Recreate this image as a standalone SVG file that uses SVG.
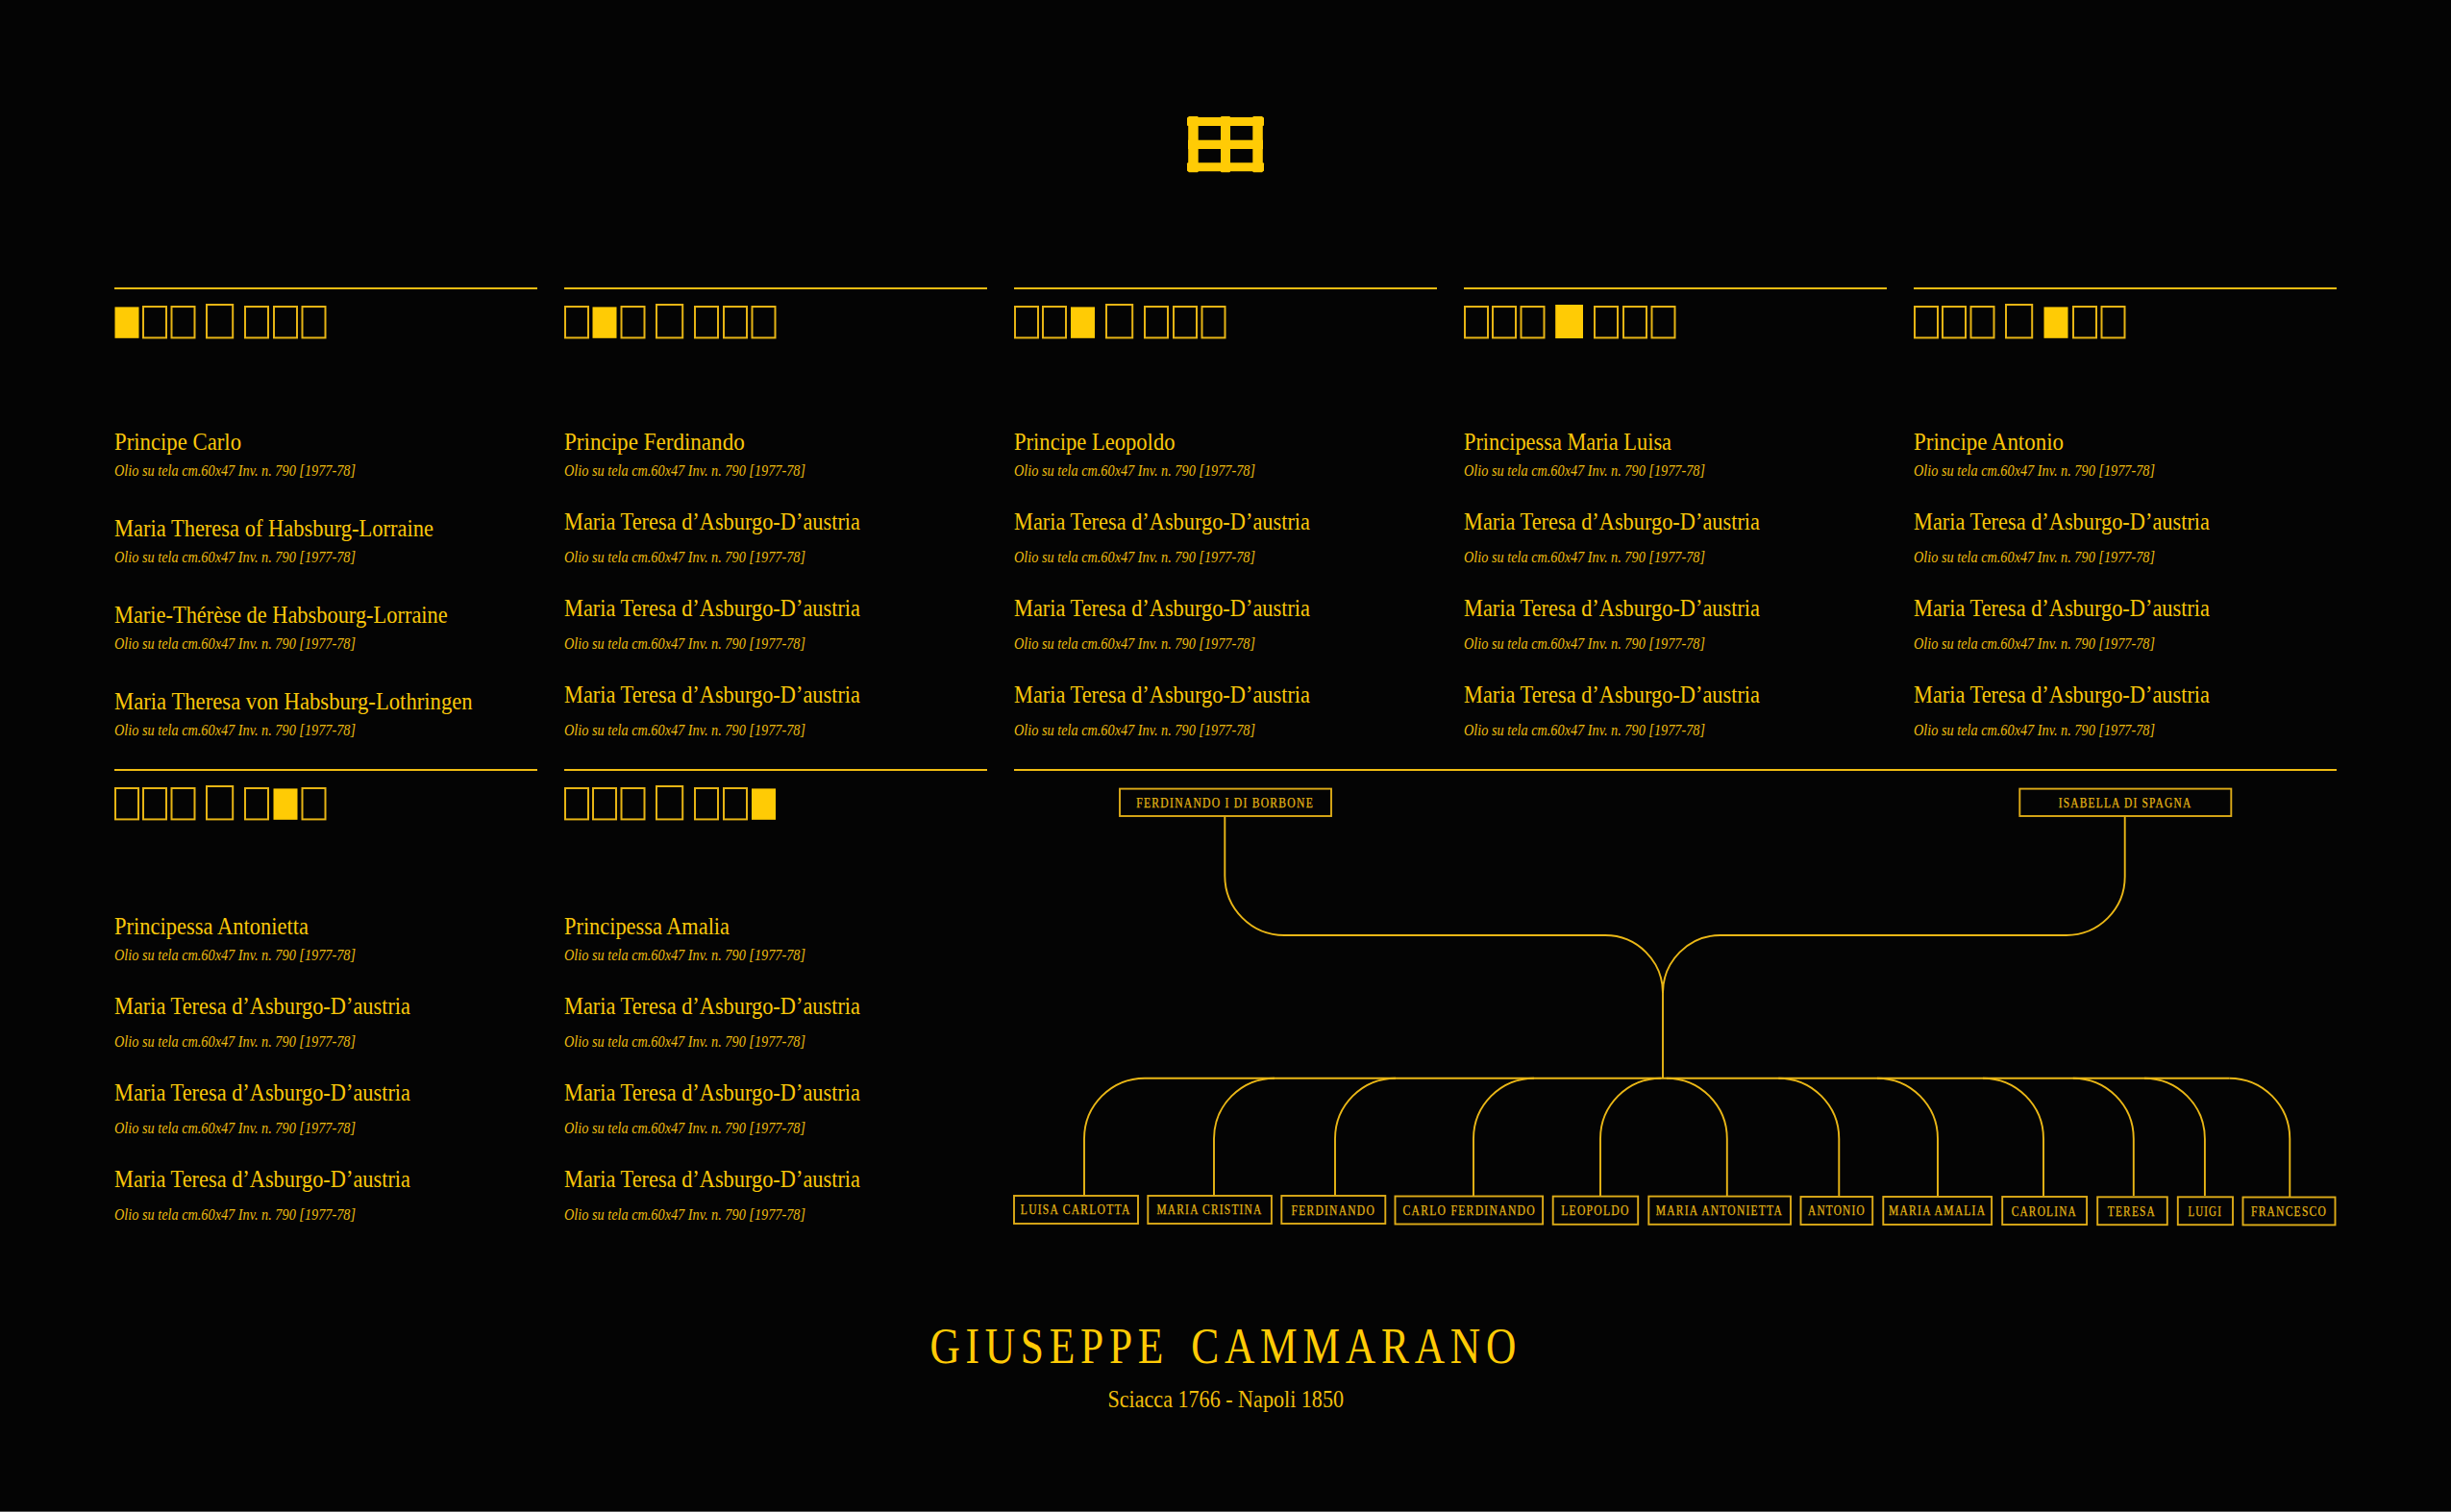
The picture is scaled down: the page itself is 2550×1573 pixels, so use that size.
<svg xmlns="http://www.w3.org/2000/svg" width="2550" height="1573" viewBox="0 0 2550 1573">
<style>
text{font-family:"Liberation Serif","Times New Roman",serif;fill:#FFCB05}
.n{font-size:25px;fill:#F9C70A}
.o{font-size:16.5px;font-style:italic;fill:#EDBC10}
.l{font-size:14px;letter-spacing:1.5px;fill:#E3B415;stroke:#E3B415;stroke-width:.25px}
.rule{stroke:#F0BC12;stroke-width:2.2;fill:none}
.c{stroke:#EAB716;stroke-width:1.9;fill:none}
.b{stroke:#DDAB18;stroke-width:1.9;fill:#040404}
.e{stroke:#E6B414;stroke-width:2;fill:none}
.f{fill:#FFCB05}
.t{font-size:53px;letter-spacing:7px;word-spacing:8px}
.s{font-size:25px;fill:#F0BE0C}
</style>
<defs>
<rect id="q" x="1" y="19" width="24" height="32.4" class="e"/>
<rect id="qt" x="1" y="17" width="27.2" height="34.4" class="e"/>
<rect id="qf" x="0.5" y="19.4" width="25" height="32.4" class="f"/>
<rect id="qtf" x="0.2" y="17" width="28.8" height="35" class="f"/>
</defs>
<rect width="2550" height="1573" fill="#040404"/>
<rect y="1572" width="2550" height="1" fill="#5a5a5a"/>

<g id="emblem" fill="#FFCB05">
<rect x="1236.2" y="121" width="10.5" height="58.3" rx="1"/>
<rect x="1270" y="121" width="10" height="58.3" rx="1"/>
<rect x="1303.3" y="121" width="10.5" height="58.3" rx="1"/>
<rect x="1235" y="122" width="80" height="9" rx="1"/>
<rect x="1236" y="145.7" width="78" height="9.3"/>
<rect x="1235" y="169.3" width="80" height="9" rx="1"/>
</g>

<g id="panel-1" transform="translate(119 300)">
<line class="rule" x1="0" y1="0" x2="440" y2="0"/>
<use href="#qf" x="0"/><use href="#q" x="29"/><use href="#q" x="58.5"/><use href="#qt" x="95"/><use href="#q" x="135"/><use href="#q" x="165"/><use href="#q" x="194.5"/>
<text class="n" x="0" y="168" textLength="132" lengthAdjust="spacingAndGlyphs">Principe Carlo</text>
<text class="o" x="0" y="195" textLength="251" lengthAdjust="spacingAndGlyphs">Olio su tela cm.60x47 Inv. n. 790 [1977-78]</text>
<text class="n" x="0" y="258" textLength="332" lengthAdjust="spacingAndGlyphs">Maria Theresa of Habsburg-Lorraine</text>
<text class="o" x="0" y="285" textLength="251" lengthAdjust="spacingAndGlyphs">Olio su tela cm.60x47 Inv. n. 790 [1977-78]</text>
<text class="n" x="0" y="348" textLength="346.7" lengthAdjust="spacingAndGlyphs">Marie-Thérèse de Habsbourg-Lorraine</text>
<text class="o" x="0" y="375" textLength="251" lengthAdjust="spacingAndGlyphs">Olio su tela cm.60x47 Inv. n. 790 [1977-78]</text>
<text class="n" x="0" y="438" textLength="372.7" lengthAdjust="spacingAndGlyphs">Maria Theresa von Habsburg-Lothringen</text>
<text class="o" x="0" y="465" textLength="251" lengthAdjust="spacingAndGlyphs">Olio su tela cm.60x47 Inv. n. 790 [1977-78]</text>
</g>

<g id="panel-2" transform="translate(587 300)">
<line class="rule" x1="0" y1="0" x2="440" y2="0"/>
<use href="#q" x="0"/><use href="#qf" x="29"/><use href="#q" x="58.5"/><use href="#qt" x="95"/><use href="#q" x="135"/><use href="#q" x="165"/><use href="#q" x="194.5"/>
<text class="n" x="0" y="168" textLength="187.7" lengthAdjust="spacingAndGlyphs">Principe Ferdinando</text>
<text class="o" x="0" y="195" textLength="251" lengthAdjust="spacingAndGlyphs">Olio su tela cm.60x47 Inv. n. 790 [1977-78]</text>
<text class="n" x="0" y="251" textLength="308" lengthAdjust="spacingAndGlyphs">Maria Teresa d’Asburgo-D’austria</text>
<text class="o" x="0" y="285" textLength="251" lengthAdjust="spacingAndGlyphs">Olio su tela cm.60x47 Inv. n. 790 [1977-78]</text>
<text class="n" x="0" y="341" textLength="308" lengthAdjust="spacingAndGlyphs">Maria Teresa d’Asburgo-D’austria</text>
<text class="o" x="0" y="375" textLength="251" lengthAdjust="spacingAndGlyphs">Olio su tela cm.60x47 Inv. n. 790 [1977-78]</text>
<text class="n" x="0" y="431" textLength="308" lengthAdjust="spacingAndGlyphs">Maria Teresa d’Asburgo-D’austria</text>
<text class="o" x="0" y="465" textLength="251" lengthAdjust="spacingAndGlyphs">Olio su tela cm.60x47 Inv. n. 790 [1977-78]</text>
</g>

<g id="panel-3" transform="translate(1055 300)">
<line class="rule" x1="0" y1="0" x2="440" y2="0"/>
<use href="#q" x="0"/><use href="#q" x="29"/><use href="#qf" x="58.5"/><use href="#qt" x="95"/><use href="#q" x="135"/><use href="#q" x="165"/><use href="#q" x="194.5"/>
<text class="n" x="0" y="168" textLength="167.5" lengthAdjust="spacingAndGlyphs">Principe Leopoldo</text>
<text class="o" x="0" y="195" textLength="251" lengthAdjust="spacingAndGlyphs">Olio su tela cm.60x47 Inv. n. 790 [1977-78]</text>
<text class="n" x="0" y="251" textLength="308" lengthAdjust="spacingAndGlyphs">Maria Teresa d’Asburgo-D’austria</text>
<text class="o" x="0" y="285" textLength="251" lengthAdjust="spacingAndGlyphs">Olio su tela cm.60x47 Inv. n. 790 [1977-78]</text>
<text class="n" x="0" y="341" textLength="308" lengthAdjust="spacingAndGlyphs">Maria Teresa d’Asburgo-D’austria</text>
<text class="o" x="0" y="375" textLength="251" lengthAdjust="spacingAndGlyphs">Olio su tela cm.60x47 Inv. n. 790 [1977-78]</text>
<text class="n" x="0" y="431" textLength="308" lengthAdjust="spacingAndGlyphs">Maria Teresa d’Asburgo-D’austria</text>
<text class="o" x="0" y="465" textLength="251" lengthAdjust="spacingAndGlyphs">Olio su tela cm.60x47 Inv. n. 790 [1977-78]</text>
</g>

<g id="panel-4" transform="translate(1523 300)">
<line class="rule" x1="0" y1="0" x2="440" y2="0"/>
<use href="#q" x="0"/><use href="#q" x="29"/><use href="#q" x="58.5"/><use href="#qtf" x="95"/><use href="#q" x="135"/><use href="#q" x="165"/><use href="#q" x="194.5"/>
<text class="n" x="0" y="168" textLength="216" lengthAdjust="spacingAndGlyphs">Principessa Maria Luisa</text>
<text class="o" x="0" y="195" textLength="251" lengthAdjust="spacingAndGlyphs">Olio su tela cm.60x47 Inv. n. 790 [1977-78]</text>
<text class="n" x="0" y="251" textLength="308" lengthAdjust="spacingAndGlyphs">Maria Teresa d’Asburgo-D’austria</text>
<text class="o" x="0" y="285" textLength="251" lengthAdjust="spacingAndGlyphs">Olio su tela cm.60x47 Inv. n. 790 [1977-78]</text>
<text class="n" x="0" y="341" textLength="308" lengthAdjust="spacingAndGlyphs">Maria Teresa d’Asburgo-D’austria</text>
<text class="o" x="0" y="375" textLength="251" lengthAdjust="spacingAndGlyphs">Olio su tela cm.60x47 Inv. n. 790 [1977-78]</text>
<text class="n" x="0" y="431" textLength="308" lengthAdjust="spacingAndGlyphs">Maria Teresa d’Asburgo-D’austria</text>
<text class="o" x="0" y="465" textLength="251" lengthAdjust="spacingAndGlyphs">Olio su tela cm.60x47 Inv. n. 790 [1977-78]</text>
</g>

<g id="panel-5" transform="translate(1991 300)">
<line class="rule" x1="0" y1="0" x2="440" y2="0"/>
<use href="#q" x="0"/><use href="#q" x="29"/><use href="#q" x="58.5"/><use href="#qt" x="95"/><use href="#qf" x="135"/><use href="#q" x="165"/><use href="#q" x="194.5"/>
<text class="n" x="0" y="168" textLength="156" lengthAdjust="spacingAndGlyphs">Principe Antonio</text>
<text class="o" x="0" y="195" textLength="251" lengthAdjust="spacingAndGlyphs">Olio su tela cm.60x47 Inv. n. 790 [1977-78]</text>
<text class="n" x="0" y="251" textLength="308" lengthAdjust="spacingAndGlyphs">Maria Teresa d’Asburgo-D’austria</text>
<text class="o" x="0" y="285" textLength="251" lengthAdjust="spacingAndGlyphs">Olio su tela cm.60x47 Inv. n. 790 [1977-78]</text>
<text class="n" x="0" y="341" textLength="308" lengthAdjust="spacingAndGlyphs">Maria Teresa d’Asburgo-D’austria</text>
<text class="o" x="0" y="375" textLength="251" lengthAdjust="spacingAndGlyphs">Olio su tela cm.60x47 Inv. n. 790 [1977-78]</text>
<text class="n" x="0" y="431" textLength="308" lengthAdjust="spacingAndGlyphs">Maria Teresa d’Asburgo-D’austria</text>
<text class="o" x="0" y="465" textLength="251" lengthAdjust="spacingAndGlyphs">Olio su tela cm.60x47 Inv. n. 790 [1977-78]</text>
</g>

<g id="panel-6" transform="translate(119 801)">
<line class="rule" x1="0" y1="0" x2="440" y2="0"/>
<use href="#q" x="0"/><use href="#q" x="29"/><use href="#q" x="58.5"/><use href="#qt" x="95"/><use href="#q" x="135"/><use href="#qf" x="165"/><use href="#q" x="194.5"/>
<text class="n" x="0" y="170.7" textLength="202" lengthAdjust="spacingAndGlyphs">Principessa Antonietta</text>
<text class="o" x="0" y="198" textLength="251" lengthAdjust="spacingAndGlyphs">Olio su tela cm.60x47 Inv. n. 790 [1977-78]</text>
<text class="n" x="0" y="253.7" textLength="308" lengthAdjust="spacingAndGlyphs">Maria Teresa d’Asburgo-D’austria</text>
<text class="o" x="0" y="288" textLength="251" lengthAdjust="spacingAndGlyphs">Olio su tela cm.60x47 Inv. n. 790 [1977-78]</text>
<text class="n" x="0" y="343.7" textLength="308" lengthAdjust="spacingAndGlyphs">Maria Teresa d’Asburgo-D’austria</text>
<text class="o" x="0" y="378" textLength="251" lengthAdjust="spacingAndGlyphs">Olio su tela cm.60x47 Inv. n. 790 [1977-78]</text>
<text class="n" x="0" y="433.7" textLength="308" lengthAdjust="spacingAndGlyphs">Maria Teresa d’Asburgo-D’austria</text>
<text class="o" x="0" y="468" textLength="251" lengthAdjust="spacingAndGlyphs">Olio su tela cm.60x47 Inv. n. 790 [1977-78]</text>
</g>

<g id="panel-7" transform="translate(587 801)">
<line class="rule" x1="0" y1="0" x2="440" y2="0"/>
<use href="#q" x="0"/><use href="#q" x="29"/><use href="#q" x="58.5"/><use href="#qt" x="95"/><use href="#q" x="135"/><use href="#q" x="165"/><use href="#qf" x="194.5"/>
<text class="n" x="0" y="170.7" textLength="172" lengthAdjust="spacingAndGlyphs">Principessa Amalia</text>
<text class="o" x="0" y="198" textLength="251" lengthAdjust="spacingAndGlyphs">Olio su tela cm.60x47 Inv. n. 790 [1977-78]</text>
<text class="n" x="0" y="253.7" textLength="308" lengthAdjust="spacingAndGlyphs">Maria Teresa d’Asburgo-D’austria</text>
<text class="o" x="0" y="288" textLength="251" lengthAdjust="spacingAndGlyphs">Olio su tela cm.60x47 Inv. n. 790 [1977-78]</text>
<text class="n" x="0" y="343.7" textLength="308" lengthAdjust="spacingAndGlyphs">Maria Teresa d’Asburgo-D’austria</text>
<text class="o" x="0" y="378" textLength="251" lengthAdjust="spacingAndGlyphs">Olio su tela cm.60x47 Inv. n. 790 [1977-78]</text>
<text class="n" x="0" y="433.7" textLength="308" lengthAdjust="spacingAndGlyphs">Maria Teresa d’Asburgo-D’austria</text>
<text class="o" x="0" y="468" textLength="251" lengthAdjust="spacingAndGlyphs">Olio su tela cm.60x47 Inv. n. 790 [1977-78]</text>
</g>

<line id="tree-rule" class="rule" x1="1055" y1="801" x2="2431" y2="801"/>

<g id="connectors">
<path class="c" d="M1274.3 849V911A62 62 0 0 0 1336.3 973H1670A60 60 0 0 1 1730 1033V1121.7"/>
<path class="c" d="M2210.7 849V912A61 61 0 0 1 2149.7 973H1790A60 60 0 0 0 1730 1033"/>
<path class="c" d="M1191 1121.7H2319.3"/>
<path class="c" d="M1128 1244V1184.7A63 63 0 0 1 1191 1121.7"/>
<path class="c" d="M1263 1244V1184.7A63 63 0 0 1 1326 1121.7"/>
<path class="c" d="M1389 1244V1184.7A63 63 0 0 1 1452 1121.7"/>
<path class="c" d="M1533 1244V1184.7A63 63 0 0 1 1596 1121.7"/>
<path class="c" d="M1665 1244V1184.7A63 63 0 0 1 1728 1121.7"/>
<path class="c" d="M1796.8 1244V1184.7A63 63 0 0 0 1733.8 1121.7"/>
<path class="c" d="M1913.3 1244V1184.7A63 63 0 0 0 1850.3 1121.7"/>
<path class="c" d="M2016 1244V1184.7A63 63 0 0 0 1953 1121.7"/>
<path class="c" d="M2126 1244V1184.7A63 63 0 0 0 2063 1121.7"/>
<path class="c" d="M2219.8 1244V1184.7A63 63 0 0 0 2156.8 1121.7"/>
<path class="c" d="M2293.9 1244V1184.7A63 63 0 0 0 2230.9 1121.7"/>
<path class="c" d="M2382.3 1245V1184.7A63 63 0 0 0 2319.3 1121.7"/>
</g>

<g id="ferdinando-i"><rect class="b" x="1165" y="820.6" width="220" height="28.4"/><text class="l" x="1182.3" y="839.7" textLength="184.7" lengthAdjust="spacingAndGlyphs">FERDINANDO I DI BORBONE</text></g>
<g id="isabella"><rect class="b" x="2101.3" y="820.6" width="220" height="28.4"/><text class="l" x="2141.7" y="839.7" textLength="138.7" lengthAdjust="spacingAndGlyphs">ISABELLA DI SPAGNA</text></g>

<g id="luisa-carlotta"><rect class="b" x="1055" y="1244" width="129" height="29"/><text class="l" x="1061.8" y="1263.3" textLength="114.8" lengthAdjust="spacingAndGlyphs">LUISA CARLOTTA</text></g>
<g id="maria-cristina"><rect class="b" x="1194.3" y="1244" width="128.6" height="29"/><text class="l" x="1203.4" y="1263.3" textLength="110.2" lengthAdjust="spacingAndGlyphs">MARIA CRISTINA</text></g>
<g id="ferdinando"><rect class="b" x="1333.3" y="1244" width="108" height="29"/><text class="l" x="1343.5" y="1263.5" textLength="87.5" lengthAdjust="spacingAndGlyphs">FERDINANDO</text></g>
<g id="carlo-ferdinando"><rect class="b" x="1451.5" y="1244.5" width="153.6" height="29"/><text class="l" x="1459.4" y="1263.7" textLength="138.6" lengthAdjust="spacingAndGlyphs">CARLO FERDINANDO</text></g>
<g id="leopoldo"><rect class="b" x="1615.7" y="1244.6" width="88.5" height="29.2"/><text class="l" x="1624.2" y="1264" textLength="71.5" lengthAdjust="spacingAndGlyphs">LEOPOLDO</text></g>
<g id="maria-antonietta"><rect class="b" x="1715.3" y="1244.6" width="147.7" height="29.2"/><text class="l" x="1722.7" y="1264" textLength="132.3" lengthAdjust="spacingAndGlyphs">MARIA ANTONIETTA</text></g>
<g id="antonio"><rect class="b" x="1873.5" y="1245" width="74.7" height="29"/><text class="l" x="1881" y="1264.3" textLength="59.8" lengthAdjust="spacingAndGlyphs">ANTONIO</text></g>
<g id="maria-amalia"><rect class="b" x="1959.3" y="1245" width="112.8" height="29"/><text class="l" x="1965" y="1264.3" textLength="101.3" lengthAdjust="spacingAndGlyphs">MARIA AMALIA</text></g>
<g id="carolina"><rect class="b" x="2083.2" y="1245" width="87.9" height="29"/><text class="l" x="2092.7" y="1264.5" textLength="68.3" lengthAdjust="spacingAndGlyphs">CAROLINA</text></g>
<g id="teresa"><rect class="b" x="2182.2" y="1245.3" width="72.6" height="28.9"/><text class="l" x="2192.8" y="1264.8" textLength="50.2" lengthAdjust="spacingAndGlyphs">TERESA</text></g>
<g id="luigi"><rect class="b" x="2265.8" y="1245.3" width="57.2" height="28.9"/><text class="l" x="2276.4" y="1264.8" textLength="35.6" lengthAdjust="spacingAndGlyphs">LUIGI</text></g>
<g id="francesco"><rect class="b" x="2333.5" y="1245.5" width="96" height="28.9"/><text class="l" x="2342" y="1265.3" textLength="79" lengthAdjust="spacingAndGlyphs">FRANCESCO</text></g>

<g id="title">
<text class="t" x="967.4" y="1418.3" textLength="615.6" lengthAdjust="spacingAndGlyphs">GIUSEPPE CAMMARANO</text>
<text class="s" x="1152.5" y="1464" textLength="245.5" lengthAdjust="spacingAndGlyphs">Sciacca 1766 - Napoli 1850</text>
</g>
</svg>
